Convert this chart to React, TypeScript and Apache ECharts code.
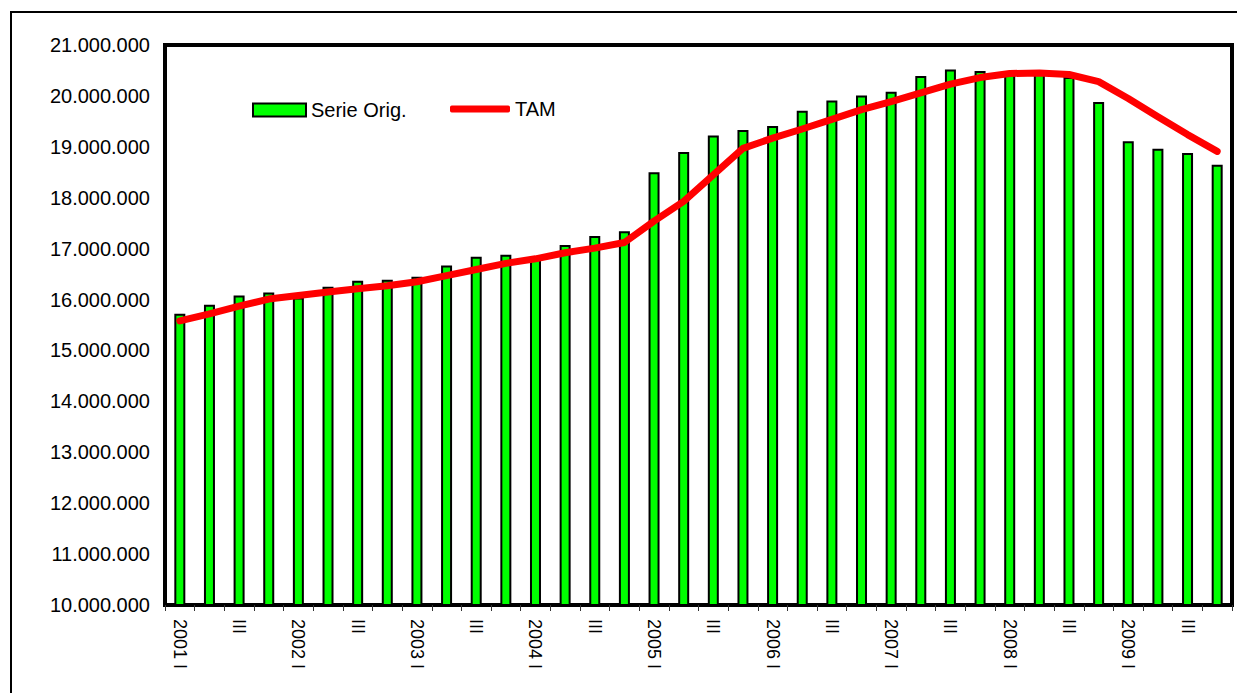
import React, { useEffect, useRef } from "react";
import * as echarts from "echarts";

const years = ["2001", "2002", "2003", "2004", "2005", "2006", "2007", "2008", "2009"];
const quarters = ["I", "II", "III", "IV"];
const categories: string[] = [];
years.forEach((y) => quarters.forEach((q, i) => categories.push(i === 0 ? `${y} ${q}` : q)));

const serieOrig = [
  15720000, 15900000, 16080000, 16140000, 16040000, 16250000, 16370000, 16390000,
  16450000, 16670000, 16840000, 16880000, 16850000, 17070000, 17250000, 17340000,
  18500000, 18900000, 19220000, 19330000, 19410000, 19710000, 19910000, 20010000,
  20080000, 20390000, 20520000, 20490000, 20450000, 20450000, 20370000, 19880000,
  19110000, 18960000, 18880000, 18650000,
];

const tam = [
  15580000, 15720000, 15870000, 16010000, 16080000, 16150000, 16210000, 16270000,
  16350000, 16470000, 16590000, 16710000, 16800000, 16920000, 17010000, 17120000,
  17540000, 17930000, 18450000, 18970000, 19170000, 19350000, 19540000, 19730000,
  19890000, 20060000, 20230000, 20360000, 20440000, 20450000, 20420000, 20280000,
  19950000, 19590000, 19240000, 18910000,
];

const yMin = 10000000;
const yMax = 21000000;
const yStep = 1000000;

const FONT = "'Liberation Sans', Arial, sans-serif";

const fmt = (v: number) => String(Math.round(v)).replace(/\B(?=(\d{3})+(?!\d))/g, ".");

export default function App() {
  const ref = useRef<HTMLDivElement>(null);
  useEffect(() => {
    if (!ref.current) return;
    const chart = echarts.init(ref.current, undefined, { renderer: "svg" });
    chart.setOption({
      animation: false,
      backgroundColor: "#fff",
      textStyle: { fontFamily: FONT },
      graphic: [
        {
          type: "rect",
          shape: { x: 11, y: 12, width: 1250, height: 720 },
          style: { fill: "none", stroke: "#000", lineWidth: 2 },
          silent: true,
        },
      ],
      grid: {
        left: 165,
        right: 5,
        top: 45,
        bottom: 88,
        show: true,
        borderColor: "#000",
        borderWidth: 4,
        backgroundColor: "transparent",
      },
      legend: [
        {
          data: ["Serie Orig."],
          left: 247,
          top: 95,
          icon: "rect",
          itemWidth: 53,
          itemHeight: 13,
          selectedMode: false,
          textStyle: { fontSize: 20, color: "#000", fontFamily: FONT },
          itemStyle: { borderColor: "#000", borderWidth: 2 },
        },
        {
          data: ["TAM"],
          left: 445,
          top: 94,
          icon: "roundRect",
          itemWidth: 60,
          itemHeight: 7,
          selectedMode: false,
          textStyle: { fontSize: 20, color: "#000", fontFamily: FONT },
        },
      ],
      xAxis: {
        type: "category",
        data: categories,
        boundaryGap: true,
        axisLine: { show: true, lineStyle: { color: "#000", width: 4 } },
        axisTick: { show: true, interval: 0, length: 6, lineStyle: { color: "#333", width: 1 } },
        axisLabel: {
          interval: 1,
          rotate: -90,
          fontSize: 18,
          color: "#000",
          margin: 14,
          fontFamily: FONT,
        },
        splitLine: { show: false },
      },
      yAxis: {
        type: "value",
        min: yMin,
        max: yMax,
        interval: yStep,
        axisLine: { show: true, lineStyle: { color: "#000", width: 4 } },
        axisTick: { show: false },
        splitLine: { show: false },
        axisLabel: {
          fontSize: 20,
          color: "#000",
          margin: 15,
          fontFamily: FONT,
          formatter: (v: number) => fmt(v),
        },
      },
      series: [
        {
          name: "Serie Orig.",
          type: "bar",
          data: serieOrig,
          barWidth: 11,
          itemStyle: { color: "#00ff00", borderColor: "#000", borderWidth: 2 },
        },
        {
          name: "TAM",
          type: "line",
          data: tam,
          symbol: "none",
          smooth: false,
          z: 5,
          itemStyle: { color: "#ff0000" },
          lineStyle: { color: "#ff0000", width: 7, cap: "round", join: "round" },
        },
      ],
    });
    return () => chart.dispose();
  }, []);
  return (
    <div
      ref={ref}
      style={{ position: "fixed", left: 0, top: 0, width: 1237, height: 693, background: "#fff" }}
    />
  );
}
